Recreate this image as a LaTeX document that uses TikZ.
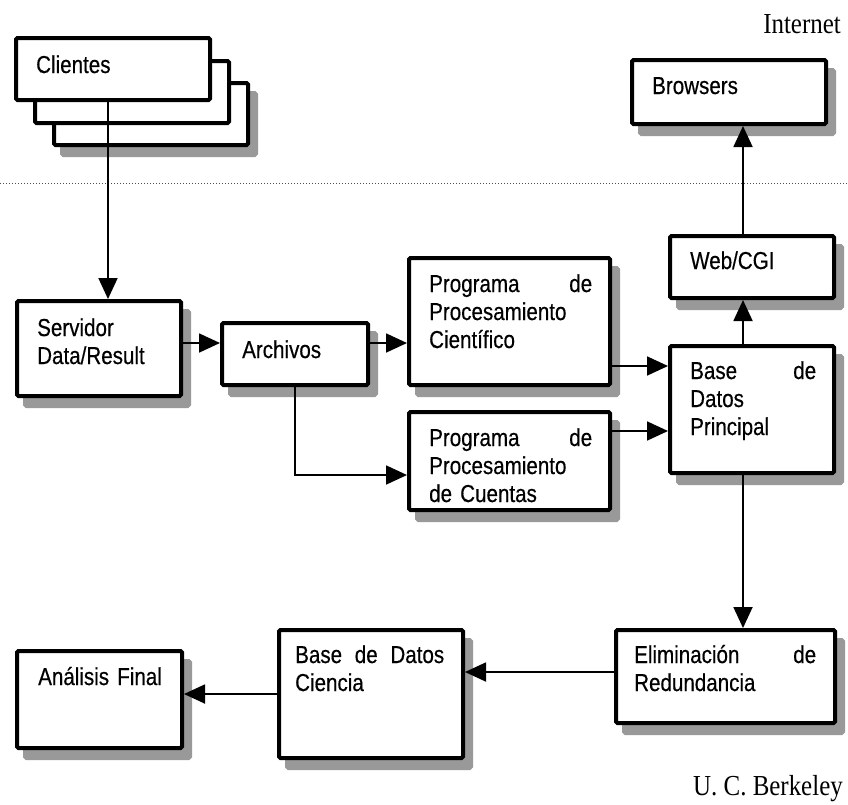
\documentclass[tikz,border=0pt]{standalone}
\usepackage{fontspec}
\setmainfont{Liberation Sans}[FakeStretch=0.84, FakeBold=0.4]
\newfontfamily\serifw{Liberation Serif}[FakeStretch=0.86]
\usetikzlibrary{arrows.meta,shadows,calc}
\definecolor{shadowgray}{RGB}{153,153,153}
\tikzset{
  boxbase/.style={draw, line width=4pt, fill=white, rounded corners=1.5pt, inner sep=0pt},
  sbox/.style={boxbase, drop shadow={shadow xshift=8pt, shadow yshift=-10pt, fill=shadowgray, draw=shadowgray, line width=4pt, opacity=1}},
  txt/.style={anchor=base west, inner sep=0pt, text width=200pt, align=left},
  arr/.style={line width=1.8pt, -{Triangle[length=21pt, width=19pt]}},
  sepline/.style={line width=1pt, black!70, dash pattern=on 1pt off 2pt},
  label/.style={inner sep=0pt, font=\serifw\fontsize{29}{32}\selectfont}
}
\begin{document}
\begin{tikzpicture}[x=1pt, y=-1pt, font=\fontsize{24.5}{28}\selectfont]
\useasboundingbox (0,0) rectangle (848,804);

% separator
\draw[sepline] (0,183) -- (848,183);

% labels
\node[label, anchor=base east] (internet) at (841,33) {Internet};
\node[label, anchor=base east] (berkeley) at (843,795) {U. C. Berkeley};

% clientes stack
\node[sbox, minimum width=194pt, minimum height=62pt] (clientes3) at (151,114) {};
\node[boxbase, minimum width=194pt, minimum height=62pt] (clientes2) at (132,92) {};
\node[boxbase, minimum width=194pt, minimum height=62pt] (clientes) at (113,69) {};
\node[txt] (clientes-t) at (36,73) {Clientes};

% boxes
\node[sbox, minimum width=194pt, minimum height=64pt] (browsers) at (729,92) {};
\node[txt] (browsers-t) at (652,94) {Browsers};

\node[sbox, minimum width=164pt, minimum height=95pt] (servidor) at (99,348.5) {};
\node[txt] (servidor-t) at (37,336) {Servidor\\Data/Result};

\node[sbox, minimum width=146pt, minimum height=62pt] (archivos) at (295,354) {};
\node[txt] (archivos-t) at (242,358) {Archivos};

\node[sbox, minimum width=201pt, minimum height=127pt] (progcient) at (509.5,321.5) {};
\node[txt] (progcient-t) at (429,292) {\makebox[163pt][l]{Programa\hfill de}\\Procesamiento\\Científico};

\node[sbox, minimum width=201pt, minimum height=98pt] (progcuent) at (509.5,461) {};
\node[txt] (progcuent-t) at (429,446) {\makebox[163pt][l]{Programa\hfill de}\\Procesamiento\\de Cuentas};

\node[sbox, minimum width=164pt, minimum height=62pt] (web) at (752,267) {};
\node[txt] (web-t) at (690,269) {Web/CGI};

\node[sbox, minimum width=164pt, minimum height=127pt] (base) at (752,409.5) {};
\node[txt] (base-t) at (690,379) {\makebox[126pt][l]{Base\hfill de}\\Datos\\Principal};

\node[sbox, minimum width=219pt, minimum height=93pt] (elim) at (725.5,676.5) {};
\node[txt] (elim-t) at (634,663) {\makebox[182pt][l]{Eliminación\hfill de}\\Redundancia};

\node[sbox, minimum width=184pt, minimum height=128pt] (ciencia) at (371,694) {};
\node[txt] (ciencia-t) at (295,663) {\makebox[149pt][l]{Base\hfill de\hfill Datos}\\Ciencia};

\node[sbox, minimum width=165pt, minimum height=97pt] (analisis) at (99.5,699.5) {};
\node[txt] (analisis-t) at (38,685) {Análisis Final};

% reference coordinates for connector lines
\coordinate (xa) at (108,0);
\coordinate (xb) at (743,0);
\coordinate (ya) at (0,343);
\coordinate (yb) at (0,366);
\coordinate (yc) at (0,431);
\coordinate (ye) at (0,672);
\coordinate (bend) at (295,475);

% connectors
\draw[arr] (clientes.south -| xa) -- (servidor.north -| xa);
\draw[arr] (servidor.east |- ya) -- (archivos.west |- ya);
\draw[arr] (archivos.east |- ya) -- (progcient.west |- ya);
\draw[arr] (archivos.south) -- (bend) -- (progcuent.west |- bend);
\draw[arr] (progcient.east |- yb) -- (base.west |- yb);
\draw[arr] (progcuent.east |- yc) -- (base.west |- yc);
\draw[arr] (base.north -| xb) -- (web.south -| xb);
\draw[arr] (web.north -| xb) -- (browsers.south -| xb);
\draw[arr] (base.south -| xb) -- (elim.north -| xb);
\draw[arr] (elim.west |- ye) -- (ciencia.east |- ye);
\draw[arr] (ciencia.west) -- (analisis.east |- ciencia.west);
\end{tikzpicture}
\end{document}
